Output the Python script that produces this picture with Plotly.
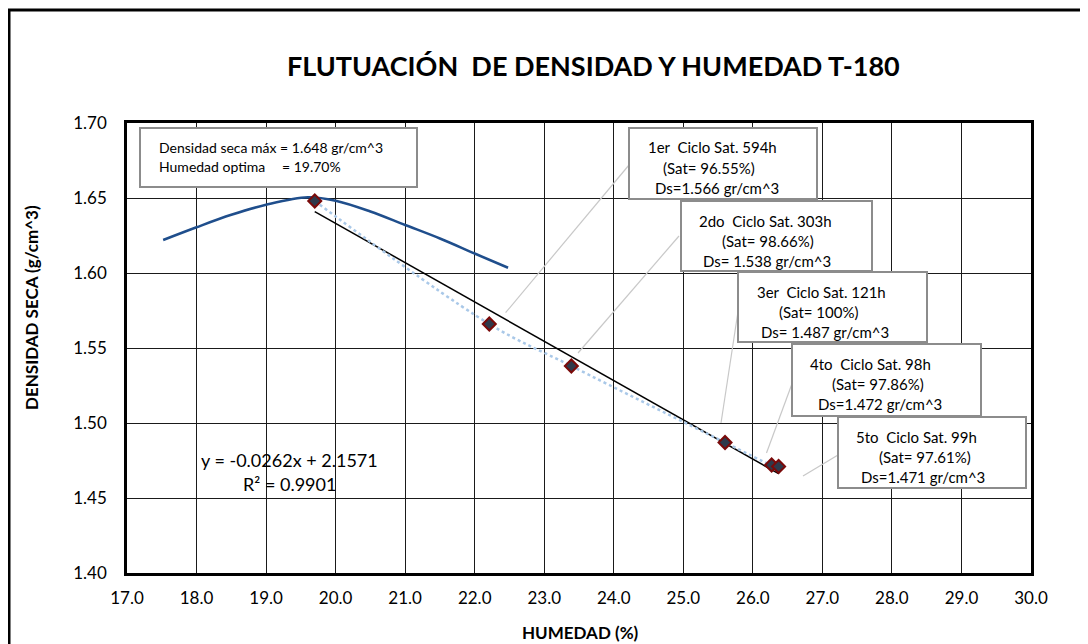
import plotly.graph_objects as go

# ensayo T-180: puntos de densidad seca vs humedad (ciclos de saturacion)
humedad = [19.70, 22.21, 23.39, 25.60, 26.27, 26.37]
densidad = [1.648, 1.566, 1.538, 1.487, 1.472, 1.471]

# curva de compactacion (proctor)
curva_x = [17.52, 18.0, 18.5, 19.0, 19.6, 20.0, 20.5, 21.0, 21.5, 22.0, 22.48]
curva_y = [1.622, 1.6305, 1.6388, 1.6455, 1.6505, 1.6482, 1.641, 1.632, 1.623, 1.613, 1.6035]

# linea de tendencia  y = -0.0262x + 2.1571
pendiente = -0.0262
intercepto = 2.1571
r2 = 0.9901

ciclos = ['1er', '2do', '3er', '4to', '5to']
horas = [594, 303, 121, 98, 99]
saturacion = ['96.55%', '98.66%', '100%', '97.86%', '97.61%']
ds_txt = ['1.566', '1.538', '1.487', '1.472', '1.471']
ds_sep = ['', ' ', ' ', '', '']

FONT = 'Lato'
OFF = 8  # margen del body de la pagina
W, H = 1088 - OFF, 644 - OFF
L, R, T, B = 127, 1031, 123, 573  # area del grafico (px de referencia)


def px(x):
    return (x - L) / (R - L)


def py(y):
    return (B - y) / (B - T)


fig = go.Figure()

fig.add_trace(go.Scatter(x=curva_x, y=curva_y, mode='lines', line_shape='spline',
                         line=dict(color='#1f4e8c', width=2.5), showlegend=False))

x_tend = [humedad[0], humedad[-1]]
y_tend = [pendiente * v + intercepto for v in x_tend]
fig.add_trace(go.Scatter(x=x_tend, y=y_tend, mode='lines',
                         line=dict(color='black', width=1.5), showlegend=False))

fig.add_trace(go.Scatter(x=humedad, y=densidad, mode='lines', line_shape='spline',
                         line=dict(color='#a9c8e8', width=2.5, dash='dot'), showlegend=False))

fig.add_trace(go.Scatter(x=humedad, y=densidad, mode='markers',
                         marker=dict(symbol='diamond', size=10, color='#2e3a4c',
                                     line=dict(color='#7a0a0a', width=2)),
                         showlegend=False))

cajas = [(629, 128, 817, 199), (681, 201, 872, 271), (738, 272, 927, 342),
         (792, 344, 981, 416), (838, 417, 1026, 488)]
sangria = [(16.5, 32, 24), (16, 38.5, 20), (16.7, 39, 21), (15.5, 38, 23.5), (16.3, 39, 21.3)]
lineas = [((629, 165), (505.6, 312.7)), ((679, 236), (578, 353)), ((739, 305), (721, 423)),
          ((793, 381), (766.5, 453)), ((838, 455), (803, 476))]

annots = []
shapes = []


def texto(x, y, t, size=15, anchor='left', bold=False):
    annots.append(dict(x=px(x), y=py(y), xref='paper', yref='paper', xanchor=anchor, yanchor='middle',
                       text='<b>' + t + '</b>' if bold else t, showarrow=False,
                       font=dict(family=FONT, size=size, color='black')))


for i in range(5):
    (a, b), (c, d) = lineas[i]
    shapes.append(dict(type='line', xref='paper', yref='paper', x0=px(a), y0=py(b), x1=px(c), y1=py(d),
                       line=dict(color='#c8c8c8', width=1.2), layer='above'))
for i in range(5):
    x0, y0, x1, y1 = cajas[i]
    shapes.append(dict(type='rect', xref='paper', yref='paper', x0=px(x0), y0=py(y0), x1=px(x1), y1=py(y1),
                       fillcolor='white', line=dict(color='#8c8c8c', width=2), layer='above'))
    s1, s2, s3 = sangria[i]
    texto(x0 + s1, y0 + 19.5, ciclos[i] + '\u00a0\u00a0Ciclo Sat. ' + str(horas[i]) + 'h')
    texto(x0 + s2, y0 + 39.5, '(Sat= ' + saturacion[i] + ')')
    texto(x0 + s3, y0 + 59.5, 'Ds=' + ds_sep[i] + ds_txt[i] + ' gr/cm^3')

# caja de maximos
shapes.append(dict(type='rect', xref='paper', yref='paper', x0=px(140), y0=py(128), x1=px(417), y1=py(187),
                   fillcolor='white', line=dict(color='#8c8c8c', width=2), layer='above'))
texto(157, 147, 'Densidad seca máx = 1.648 gr/cm^3', size=14)
texto(157, 166.5, 'Humedad optima', size=14)
texto(280, 166.5, '= 19.70%', size=14)

texto(289, 460, 'y = %.4fx + %.4f' % (pendiente, intercepto), size=18, anchor='center')
texto(289, 484, 'R² = %.4f' % r2, size=18, anchor='center')

annots.append(dict(x=px(31), y=py(308), xref='paper', yref='paper', xanchor='center', yanchor='middle',
                   text='<b>DENSIDAD SECA (g/cm^3)</b>', textangle=-90, showarrow=False,
                   font=dict(family=FONT, size=17, color='black')))
texto(580, 632, 'HUMEDAD (%)', size=17, anchor='center', bold=True)
texto(593, 65, 'FLUTUACIÓN  DE DENSIDAD Y HUMEDAD T-180', size=27, anchor='center', bold=True)

# marco exterior
shapes.append(dict(type='rect', xref='paper', yref='paper', x0=px(9), y0=py(10), x1=px(1110), y1=py(670),
                   line=dict(color='black', width=3), layer='below'))

fig.update_layout(
    width=W, height=H,
    margin=dict(l=L - OFF, r=W - (R - OFF), t=T - OFF, b=H - (B - OFF)),
    paper_bgcolor='white', plot_bgcolor='white',
    annotations=annots, shapes=shapes,
    font=dict(family=FONT, size=17, color='black'),
    xaxis=dict(range=[17, 30], dtick=1, tick0=17, tickformat='.1f',
               showgrid=True, gridcolor='#1a1a1a', gridwidth=1,
               showline=True, linecolor='black', linewidth=2.5, mirror=True,
               ticks='outside', ticklen=8, tickcolor='rgba(0,0,0,0)', zeroline=False),
    yaxis=dict(range=[1.40, 1.70], dtick=0.05, tick0=1.40, tickformat='.2f',
               showgrid=True, gridcolor='#1a1a1a', gridwidth=1,
               showline=True, linecolor='black', linewidth=2.5, mirror=True,
               ticks='outside', ticklen=14, tickcolor='rgba(0,0,0,0)', zeroline=False),
)

fig.write_html('out.html')
